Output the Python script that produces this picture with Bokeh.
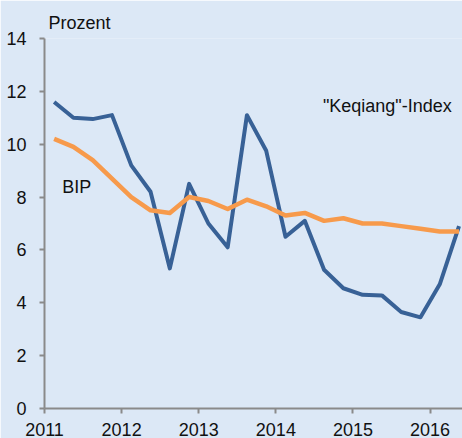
from bokeh.plotting import figure
from bokeh.models import Range1d, FixedTicker, Label
from bokeh.embed import file_html
from bokeh.resources import INLINE

# ---- data ----
quarters = ["2011Q1", "2011Q2", "2011Q3", "2011Q4",
            "2012Q1", "2012Q2", "2012Q3", "2012Q4",
            "2013Q1", "2013Q2", "2013Q3", "2013Q4",
            "2014Q1", "2014Q2", "2014Q3", "2014Q4",
            "2015Q1", "2015Q2", "2015Q3", "2015Q4",
            "2016Q1", "2016Q2"]
keqiang = [11.6, 11.0, 10.95, 11.1, 9.2, 8.2, 5.3, 8.5, 7.0, 6.1, 11.1, 9.75,
           6.5, 7.1, 5.25, 4.55, 4.3, 4.28, 3.65, 3.45, 4.7, 6.9]
bip = [10.2, 9.9, 9.4, 8.7, 8.0, 7.5, 7.4, 8.0, 7.85, 7.55, 7.9, 7.65,
       7.3, 7.4, 7.1, 7.2, 7.0, 7.0, 6.9, 6.8, 6.7, 6.7]
year_ticks = [2011, 2012, 2013, 2014, 2015, 2016]
y_ticks = [0, 2, 4, 6, 8, 10, 12, 14]

# quarter label -> mid-quarter position on the time axis
xq = [int(q[:4]) + (int(q[5]) - 0.5) / 4 for q in quarters]

BG = "#dce8f6"
BLUE = "#386196"
ORANGE = "#f79a4b"
AXIS = "#8a8a8a"
TXT = "#111111"
FONT = "Liberation Sans"

p = figure(width=462, height=438, output_backend="svg", toolbar_location=None,
           x_range=Range1d(2011, 2016.42), y_range=Range1d(0, 14),
           min_border_left=44, min_border_right=0, min_border_top=38,
           min_border_bottom=29, title="Prozent")
p.background_fill_color = BG
p.border_fill_color = BG
p.outline_line_color = None
p.xgrid.visible = False
p.ygrid.visible = False

p.title.text_font = FONT
p.title.text_font_size = "18px"
p.title.text_font_style = "normal"
p.title.text_color = TXT
p.title.align = "left"
p.title.offset = 4
p.title.standoff = 11

for ax in (p.xaxis[0], p.yaxis[0]):
    ax.axis_line_color = AXIS
    ax.axis_line_width = 2
    ax.major_tick_line_color = AXIS
    ax.major_tick_line_width = 2
    ax.major_tick_out = 5
    ax.major_tick_in = 0
    ax.minor_tick_line_color = None
    ax.major_label_text_font = FONT
    ax.major_label_text_font_size = "18px"
    ax.major_label_text_color = TXT

p.xaxis.ticker = FixedTicker(ticks=year_ticks)
p.yaxis.ticker = FixedTicker(ticks=y_ticks)
p.xaxis.major_label_standoff = 9
p.yaxis.major_label_standoff = 13

p.line(xq, keqiang, line_color=BLUE, line_width=4, line_join="round")
p.line(xq, bip, line_color=ORANGE, line_width=4.5, line_join="round")

p.add_layout(Label(x=2014.61, y=11.43, text='"Keqiang"-Index', text_font=FONT,
                   text_font_size="18px", text_color=TXT, text_baseline="middle"))
p.add_layout(Label(x=2011.23, y=8.4, text="BIP", text_font=FONT,
                   text_font_size="18px", text_color=TXT, text_baseline="middle"))

open("out.html", "w").write(file_html(p, INLINE))
